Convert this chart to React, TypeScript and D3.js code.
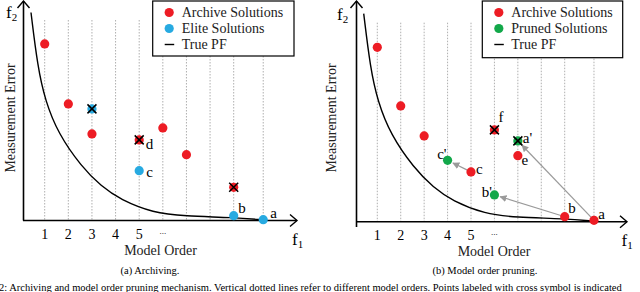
import React, { useRef, useEffect } from 'react';
import * as d3 from 'd3';

// model order grid (last line sits a bit further out)
const gridOrders = [1, 2, 3, 4, 5, 6, 7, 8, 9, 10.25];
const tickOrders = [1, 2, 3, 4, 5, 6];
const tickLabels = ['1', '2', '3', '4', '5', '...'];

// true pareto front
const pfOrder = [0.42, 0.7, 1.02, 1.57, 2.55, 3.4, 4.2, 5.6, 6.9, 9, 10.25];
const pfError = [104, 77, 60, 43.5, 27, 17, 10.5, 3.8, 2.2, 1.5, 0.3];

type Pt = { o: number; v: number; cross?: boolean; label?: string };

// (a) archiving
const archiveA: Pt[] = [
    { o: 1, v: 88.3 },
    { o: 2, v: 58.3 },
    { o: 3, v: 43.3 },
    { o: 5, v: 40.3, cross: true, label: 'd' },
    { o: 6, v: 46.3 },
    { o: 7, v: 32.9 },
    { o: 9, v: 16.6, cross: true },
];
const eliteA: Pt[] = [
    { o: 3, v: 55.8, cross: true },
    { o: 5, v: 24.9, label: 'c' },
    { o: 9, v: 2.4, label: 'b' },
    { o: 10.25, v: 0.4, label: 'a' },
];

// (b) model order pruning
const archiveB: Pt[] = [
    { o: 1, v: 87.2 },
    { o: 2, v: 57.9 },
    { o: 3, v: 42.9 },
    { o: 6, v: 45.9, cross: true, label: 'f' },
    { o: 7, v: 33, label: 'e' },
    { o: 5, v: 24.9, label: 'c' },
    { o: 9, v: 2.5, label: 'b' },
    { o: 10.25, v: 0.7, label: 'a' },
];
const prunedB: Pt[] = [
    { o: 7, v: 40.4, cross: true, label: "a'" },
    { o: 4, v: 30.7, label: "c'" },
    { o: 6, v: 13.4, label: "b'" },
];
const pruneMoves = [
    ['c', "c'"],
    ['b', "b'"],
    ['a', "a'"],
];

const RED = '#ED1C24';
const BLUE = '#27AAE1';
const GREEN = '#12A84A';
const FONT = '"Liberation Serif", "Times New Roman", serif';

type PanelCfg = {
    ox: number;
    xRange: [number, number];
    baseY: number;
    gridTop: number;
    yAxisBottom: number;
    xAxisStart: number;
    xAxisEnd: number;
    yLabelX: number;
    series: { name: string; color: string; pts: Pt[] }[];
    legend: { x: number; w: number; h: number };
    labelPos: Record<string, [number, number, string]>;
    moves: string[][];
    caption: string;
    captionX: number;
    titleX: number;
    f1X: number;
    f2X: number;
    f2Y: number;
};

function drawPanel(svg: d3.Selection<SVGSVGElement, unknown, null, undefined>, c: PanelCfg) {
    const x = d3.scaleLinear().domain([1, 9]).range(c.xRange);
    const y = d3.scaleLinear().domain([0, 100]).range([c.baseY, c.baseY - 200]);
    const g = svg.append('g');

    // dotted grid
    gridOrders.forEach((o) => {
        g.append('line')
            .attr('x1', x(o)).attr('x2', x(o))
            .attr('y1', c.gridTop).attr('y2', c.baseY)
            .attr('stroke', '#9a9a9a')
            .attr('stroke-width', 0.8)
            .attr('stroke-dasharray', '1.5,1.5');
    });

    // true PF
    const line = d3.line<number>()
        .x((_, i) => x(pfOrder[i]))
        .y((d) => y(d))
        .curve(d3.curveBasis);
    g.append('path')
        .attr('d', line(pfError))
        .attr('fill', 'none')
        .attr('stroke', 'black')
        .attr('stroke-width', 1.4);

    // axes
    const yAxisX = c.xAxisStart + 0.5;
    g.append('line')
        .attr('x1', c.xAxisStart).attr('x2', c.xAxisEnd)
        .attr('y1', c.baseY).attr('y2', c.baseY)
        .attr('stroke', 'black').attr('stroke-width', 1.6);
    g.append('line')
        .attr('x1', yAxisX).attr('x2', yAxisX)
        .attr('y1', 1).attr('y2', c.yAxisBottom)
        .attr('stroke', 'black').attr('stroke-width', 1.6);
    g.append('path')
        .attr('d', `M${c.xAxisEnd - 7},${c.baseY - 6}L${c.xAxisEnd},${c.baseY}L${c.xAxisEnd - 7},${c.baseY + 6}`)
        .attr('fill', 'none').attr('stroke', 'black').attr('stroke-width', 1.4);
    g.append('path')
        .attr('d', `M${yAxisX - 6},8L${yAxisX},1L${yAxisX + 6},8`)
        .attr('fill', 'none').attr('stroke', 'black').attr('stroke-width', 1.4);

    // tick labels
    tickOrders.forEach((o, i) => {
        const dots = tickLabels[i] === '...';
        g.append('text')
            .attr('x', x(o))
            .attr('y', dots ? c.baseY + 13 : c.baseY + 18.5)
            .attr('text-anchor', 'middle')
            .attr('font-family', FONT)
            .attr('font-size', dots ? 9 : 14)
            .text(tickLabels[i]);
    });

    g.append('text')
        .attr('x', c.titleX)
        .attr('y', c.baseY + 34.5)
        .attr('text-anchor', 'middle')
        .attr('font-family', FONT)
        .attr('font-size', 14)
        .attr('fill', '#222')
        .text('Model Order');

    g.append('text')
        .attr('transform', `translate(${c.yLabelX},118) rotate(-90)`)
        .attr('text-anchor', 'middle')
        .attr('font-family', FONT)
        .attr('font-size', 14)
        .attr('fill', '#222')
        .text('Measurement Error');

    // f1, f2
    const f1 = g.append('text')
        .attr('x', c.f1X).attr('y', c.baseY + 24)
        .attr('font-family', FONT).attr('font-size', 17);
    f1.append('tspan').text('f');
    f1.append('tspan').attr('font-size', 11).attr('dy', 3).text('1');
    const f2 = g.append('text')
        .attr('x', c.f2X).attr('y', c.f2Y)
        .attr('font-family', FONT).attr('font-size', 17);
    f2.append('tspan').text('f');
    f2.append('tspan').attr('font-size', 11).attr('dy', 3).text('2');

    // arrow marker
    const mid = `arrow${c.ox}`;
    svg.append('defs').append('marker')
        .attr('id', mid)
        .attr('viewBox', '0 0 10 10')
        .attr('refX', 9).attr('refY', 5)
        .attr('markerWidth', 7).attr('markerHeight', 7)
        .attr('markerUnits', 'userSpaceOnUse')
        .attr('orient', 'auto')
        .append('path')
        .attr('d', 'M0,0L10,5L0,10z')
        .attr('fill', '#9a9a9a');

    const byLabel: Record<string, Pt> = {};
    c.series.forEach((s) => s.pts.forEach((p) => { if (p.label) byLabel[p.label] = p; }));
    c.moves.forEach(([from, to]) => {
        const a = byLabel[from];
        const b = byLabel[to];
        const x1 = x(a.o), y1 = y(a.v), x2 = x(b.o), y2 = y(b.v);
        const len = Math.hypot(x2 - x1, y2 - y1);
        const ux = (x2 - x1) / len, uy = (y2 - y1) / len;
        g.append('line')
            .attr('x1', x1 + ux * 4).attr('y1', y1 + uy * 4)
            .attr('x2', x2 - ux * 6).attr('y2', y2 - uy * 6)
            .attr('stroke', '#9a9a9a')
            .attr('stroke-width', 1.2)
            .attr('marker-end', `url(#${mid})`);
    });

    // points
    c.series.forEach((s) => {
        s.pts.forEach((p) => {
            const cx = x(p.o), cy = y(p.v);
            g.append('circle')
                .attr('cx', cx).attr('cy', cy).attr('r', 4.6)
                .attr('fill', s.color);
            if (p.cross) {
                g.append('path')
                    .attr('d', `M${cx - 4.5},${cy - 4.5}L${cx + 4.5},${cy + 4.5}M${cx - 4.5},${cy + 4.5}L${cx + 4.5},${cy - 4.5}`)
                    .attr('stroke', 'black').attr('stroke-width', 1.5);
            }
            if (p.label) {
                const [dx, dy, anchor] = c.labelPos[p.label];
                g.append('text')
                    .attr('x', cx + dx).attr('y', cy + dy)
                    .attr('text-anchor', anchor)
                    .attr('font-family', FONT)
                    .attr('font-size', 15)
                    .text(p.label);
            }
        });
    });

    // legend
    const L = c.legend;
    g.append('rect')
        .attr('x', L.x).attr('y', 1).attr('width', L.w).attr('height', L.h)
        .attr('fill', 'white').attr('stroke', 'black').attr('stroke-width', 1.2);
    const items = [...c.series.map((s) => ({ name: s.name, color: s.color })), { name: 'True PF', color: '' }];
    items.forEach((it, i) => {
        const ly = 12.5 + i * 16;
        if (it.color) {
            g.append('circle').attr('cx', L.x + 16.5).attr('cy', ly).attr('r', 4.6).attr('fill', it.color);
        } else {
            g.append('line')
                .attr('x1', L.x + 12).attr('x2', L.x + 21.5)
                .attr('y1', ly).attr('y2', ly)
                .attr('stroke', 'black').attr('stroke-width', 1.4);
        }
        g.append('text')
            .attr('x', L.x + 29).attr('y', ly + 4.8)
            .attr('font-family', FONT)
            .attr('font-size', 14)
            .attr('fill', '#222')
            .text(it.name);
    });

    // sub caption
    g.append('text')
        .attr('x', c.captionX).attr('y', 274)
        .attr('text-anchor', 'middle')
        .attr('font-family', FONT)
        .attr('font-size', 10.5)
        .text(c.caption);
}

export default function App() {
    const svgRef = useRef<SVGSVGElement | null>(null);

    useEffect(() => {
        d3.select(svgRef.current).selectAll('*').remove();
        const svg = d3.select(svgRef.current as SVGSVGElement);

        drawPanel(svg, {
            ox: 0,
            xRange: [44.7, 233.7],
            baseY: 220.5,
            gridTop: 20,
            yAxisBottom: 220.5,
            xAxisStart: 23,
            xAxisEnd: 297,
            yLabelX: 14.5,
            series: [
                { name: 'Archive Solutions', color: RED, pts: archiveA },
                { name: 'Elite Solutions', color: BLUE, pts: eliteA },
            ],
            legend: { x: 152.7, w: 141.3, h: 55 },
            labelPos: { d: [6.5, 9, 'start'], c: [7, 6, 'start'], b: [4.5, -2.7, 'start'], a: [7, -1.7, 'start'] },
            moves: [],
            caption: '(a)  Archiving.',
            captionX: 150,
            titleX: 160.5,
            f1X: 292,
            f2X: 6,
            f2Y: 18,
        });

        drawPanel(svg, {
            ox: 320,
            xRange: [377.3, 564.7],
            baseY: 221.7,
            gridTop: 22.7,
            yAxisBottom: 227,
            xAxisStart: 356,
            xAxisEnd: 627,
            yLabelX: 335.5,
            series: [
                { name: 'Archive Solutions', color: RED, pts: archiveB },
                { name: 'Pruned Solutions', color: GREEN, pts: prunedB },
            ],
            legend: { x: 482.3, w: 140.4, h: 56.7 },
            labelPos: {
                f: [4, -8.3, 'start'],
                "a'": [5, 2.3, 'start'],
                e: [3.7, 9.3, 'start'],
                c: [5, 2.5, 'start'],
                "c'": [-1, -1, 'end'],
                "b'": [-2.5, 1.7, 'end'],
                b: [3.6, -4, 'start'],
                a: [4.3, -1, 'start'],
            },
            moves: pruneMoves,
            caption: '(b)  Model order pruning.',
            captionX: 485,
            titleX: 494,
            f1X: 621.5,
            f2X: 337,
            f2Y: 20,
        });

        svg.append('text')
            .attr('x', -1).attr('y', 291)
            .attr('font-family', FONT)
            .attr('font-size', 10.5)
            .text('2: Archiving and model order pruning mechanism. Vertical dotted lines refer to different model orders. Points labeled with cross symbol is indicated');
    }, []);

    return (
        <svg
            ref={svgRef}
            width={640}
            height={292}
            style={{ position: 'absolute', left: 0, top: 0, background: 'white' }}
        />
    );
}
